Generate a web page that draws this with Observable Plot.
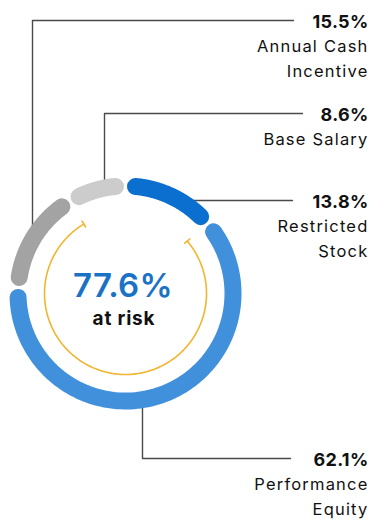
<!DOCTYPE html>
<html>
<head>
<meta charset="utf-8">
<script src="https://cdn.jsdelivr.net/npm/d3@7"></script>
<script src="https://cdn.jsdelivr.net/npm/@observablehq/plot@0.6"></script>
<style>
  html, body { margin: 0; padding: 0; background: #fff; }
  svg { display: block; }
</style>
</head>
<body>
<div id="chart"></div>
<script>
// Pay mix, clockwise from 12 o'clock
const categories = ["Restricted Stock", "Performance Equity", "Annual Cash Incentive", "Base Salary"];
const shares = [13.8, 62.1, 15.5, 8.6];
const nameLines = [["Restricted", "Stock"], ["Performance", "Equity"], ["Annual Cash", "Incentive"], ["Base Salary"]];
const atRiskCategories = ["Performance Equity", "Annual Cash Incentive"];
const atRiskLabel = "at risk";

const palette = ["#0a6fcf", "#4090dc", "#a3a3a3", "#cccccc"];
const W = 373, H = 519;
const cx = 125, cy = 293;     // ring centre
const rMid = 107.5;           // ring mid radius
const ringWidth = 17;
const rInner = 81;            // bracket arc radius
const padPx = 10;             // half the gap between rounded segment ends

const total = d3.sum(shares);
const toAngle = (v) => (v / total) * 2 * Math.PI; // radians clockwise from top
const pt = (a, r) => ({x: cx + r * Math.sin(a), y: cy - r * Math.cos(a)});

// segment start/end angles
let acc = 0;
const segments = categories.map((c, i) => {
  const a0 = toAngle(acc);
  acc += shares[i];
  return {category: c, value: shares[i], a0, a1: toAngle(acc)};
});

// sampled arc geometry for each segment
const pad = padPx / rMid;
const ringPts = segments.flatMap((s) => {
  const n = 120;
  return d3.range(n + 1).map((k) => {
    const a = s.a0 + pad + (s.a1 - s.a0 - 2 * pad) * (k / n);
    return {category: s.category, ...pt(a, rMid)};
  });
});

// bracket over the at-risk share
const riskSegs = segments.filter((s) => atRiskCategories.includes(s.category));
const riskStart = d3.min(riskSegs, (s) => s.a0);
const riskEnd = d3.max(riskSegs, (s) => s.a1);
const riskValue = d3.sum(riskSegs, (s) => s.value);
const bracketPts = d3.range(241).map((k) => pt(riskStart + (riskEnd - riskStart) * (k / 240), rInner));
const tickLen = 4;
const bracketTicks = [riskStart, riskEnd].map((a) => {
  const p = pt(a, rInner - tickLen), q = pt(a, rInner + tickLen);
  return {x1: p.x, y1: p.y, x2: q.x, y2: q.y};
});

// callout layout: rule height and leader geometry per category
const textRight = 368;
const ringY = (x, sign) => cy + sign * Math.sqrt(rMid * rMid - (x - cx) * (x - cx));
const ringX = (y) => cx + Math.sqrt(rMid * rMid - (y - cy) * (y - cy));
const callouts = [
  {category: "Restricted Stock", ruleY: 200, end: 292, path: (y) => [{x: ringX(y), y}]},
  {category: "Performance Equity", ruleY: 458, end: 290, path: (y) => [{x: 142, y: ringY(142, 1)}, {x: 142, y}]},
  {category: "Annual Cash Incentive", ruleY: 20, end: 293, path: (y) => [{x: 32, y: ringY(32, -1)}, {x: 32, y}]},
  {category: "Base Salary", ruleY: 113, end: 302, path: (y) => [{x: 104, y: ringY(104, -1)}, {x: 104, y}]}
];
const leaderPts = callouts.flatMap((c) =>
  [...c.path(c.ruleY), {x: c.end, y: c.ruleY}].map((p) => ({category: c.category, ...p}))
);

const pctLabels = callouts.map((c) => {
  const i = categories.indexOf(c.category);
  return {x: textRight, y: c.ruleY + 7.5, text: `${shares[i].toFixed(1)}%`};
});
const nameLabels = callouts.flatMap((c) => {
  const i = categories.indexOf(c.category);
  return nameLines[i].map((t, j) => ({x: textRight, y: c.ruleY + 31.5 + j * 24.5, text: t}));
});

const font = "Inter, 'Open Sans', sans-serif";

const chart = Plot.plot({
  width: W,
  height: H,
  margin: 0,
  style: {fontFamily: font, background: "#fff"},
  x: {domain: [0, W], range: [0, W], axis: null},
  y: {domain: [0, H], range: [0, H], axis: null},
  color: {domain: categories, range: palette},
  marks: [
    Plot.line(leaderPts, {x: "x", y: "y", z: "category", stroke: "#4a4a4a", strokeWidth: 1.4}),
    Plot.line(ringPts, {
      x: "x", y: "y", z: "category", stroke: "category",
      strokeWidth: ringWidth, strokeLinecap: "round", curve: "linear"
    }),
    Plot.line(bracketPts, {x: "x", y: "y", stroke: "#f2b530", strokeWidth: 1.6}),
    Plot.link(bracketTicks, {x1: "x1", y1: "y1", x2: "x2", y2: "y2", stroke: "#f2b530", strokeWidth: 1.6}),
    Plot.text([`${riskValue.toFixed(1)}%`], {
      x: () => 122.5, y: () => 296, text: (d) => d, fill: "#1a72c6",
      fontSize: 33, fontWeight: 600, lineAnchor: "bottom", textAnchor: "middle"
    }),
    Plot.text([atRiskLabel], {
      x: () => 123.5, y: () => 324, text: (d) => d, fill: "#111",
      fontSize: 19, fontWeight: 700, lineAnchor: "bottom", textAnchor: "middle"
    }),
    Plot.text(pctLabels, {
      x: "x", y: "y", text: "text", fill: "#111",
      fontSize: 18, fontWeight: 700, textAnchor: "end", lineAnchor: "bottom"
    }),
    Plot.text(nameLabels, {
      x: "x", y: "y", text: "text", fill: "#111",
      fontSize: 16.5, fontWeight: 400, textAnchor: "end", lineAnchor: "bottom"
    })
  ]
});

// letter spacing per text layer: centre value, centre label, percents, names
const spacing = [0.3, 0.8, 0.3, 1.2];
chart.querySelectorAll('g[aria-label="text"]').forEach((g, i) => {
  g.setAttribute("letter-spacing", spacing[i]);
});

document.getElementById("chart").appendChild(chart);
</script>
</body>
</html>
